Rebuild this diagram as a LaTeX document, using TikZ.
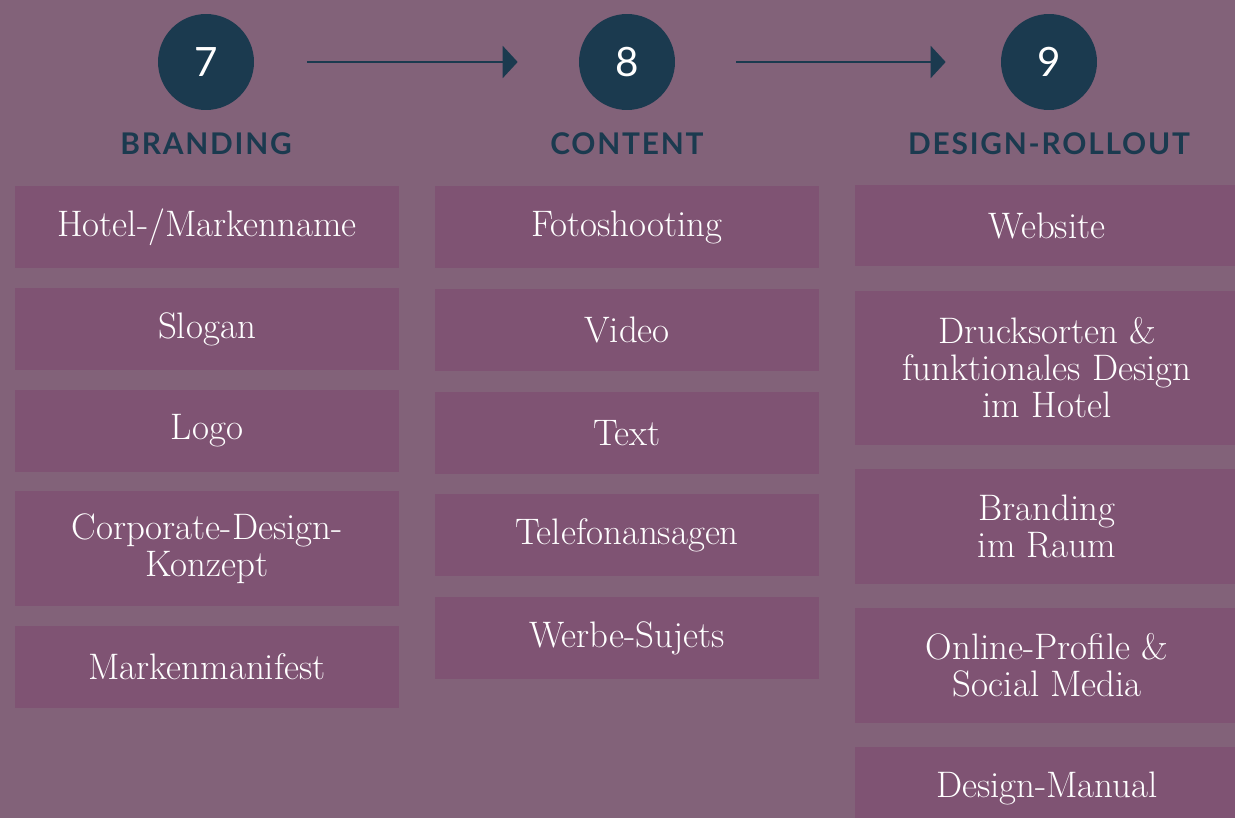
\documentclass[tikz,border=0pt]{standalone}
\usepackage{fontspec}
\newfontfamily\headfont[LetterSpace=6]{Lato}
\newfontfamily\numfont{Lato}
\usetikzlibrary{positioning,arrows.meta}
\definecolor{bgpurple}{HTML}{826279}
\definecolor{boxpurple}{HTML}{7F5373}
\definecolor{navy}{HTML}{1B3A4F}

\begin{document}
\begin{tikzpicture}[x=0.02cm,y=-0.02cm,node distance=0.4cm,
    num/.style={circle,fill=navy,text=white,minimum size=1.92cm,inner sep=0pt,font=\numfont\fontsize{23}{23}\selectfont},
    head/.style={text=navy,font=\headfont\bfseries\fontsize{17}{17}\selectfont},
    item/.style={fill=boxpurple,text=white,minimum width=7.68cm,minimum height=1.64cm,inner sep=0pt,align=center,font=\fontsize{21}{21}\selectfont},
    flow/.style={-{Triangle[length=0.3cm,width=0.64cm]},draw=navy,line width=1.3pt}]
    \fill[bgpurple] (0,0) rectangle (1235,818);
    \clip (0,0) rectangle (1235,818);
    % steps
    \node[num] (n7) at (206,62) {7};
    \node[num] (n8) at (627,62) {8};
    \node[num] (n9) at (1049,62) {9};
    \draw[flow,shorten <=1.06cm,shorten >=1.22cm] (n7) -- (n8);
    \draw[flow,shorten <=1.22cm,shorten >=1.1cm] (n8) -- (n9);
    \node[head] (h7) at (206,144) {BRANDING};
    \node[head] (h8) at (627,144) {CONTENT};
    \node[head] (h9) at (1049,144) {DESIGN-ROLLOUT};
    % branding
    \begin{scope}[node distance=0.38cm]
    \node[item,anchor=north] (b1) at (207,186) {Hotel-/Markenname};
    \node[item] (b2) [below=of b1] {Slogan};
    \node[item] (b3) [below=of b2] {Logo};
    \node[item,minimum height=2.3cm] (b4) [below=of b3] {Corporate-Design-\\Konzept};
    \node[item] (b5) [below=of b4] {Markenmanifest};
    \end{scope}
    % content
    \node[item,anchor=north] (c1) at (627,186) {Fotoshooting};
    \node[item] (c2) [below=of c1] {Video};
    \node[item] (c3) [below=of c2] {Text};
    \node[item] (c4) [below=of c3] {Telefonansagen};
    \node[item] (c5) [below=of c4] {Werbe-Sujets};
    % rollout
    \begin{scope}[node distance=0.47cm]
    \node[item,anchor=north,minimum height=1.62cm] (d1) at (1047,185) {Website};
    \node[item,minimum height=3.08cm] (d2) [below=of d1] {Drucksorten \&\\funktionales Design\\im Hotel};
    \node[item,minimum height=2.3cm] (d3) [below=of d2] {Branding\\im Raum};
    \node[item,minimum height=2.3cm] (d4) [below=of d3] {Online-Profile \&\\Social Media};
    \node[item] (d5) [below=of d4] {Design-Manual};
    \end{scope}
\end{tikzpicture}
\end{document}
